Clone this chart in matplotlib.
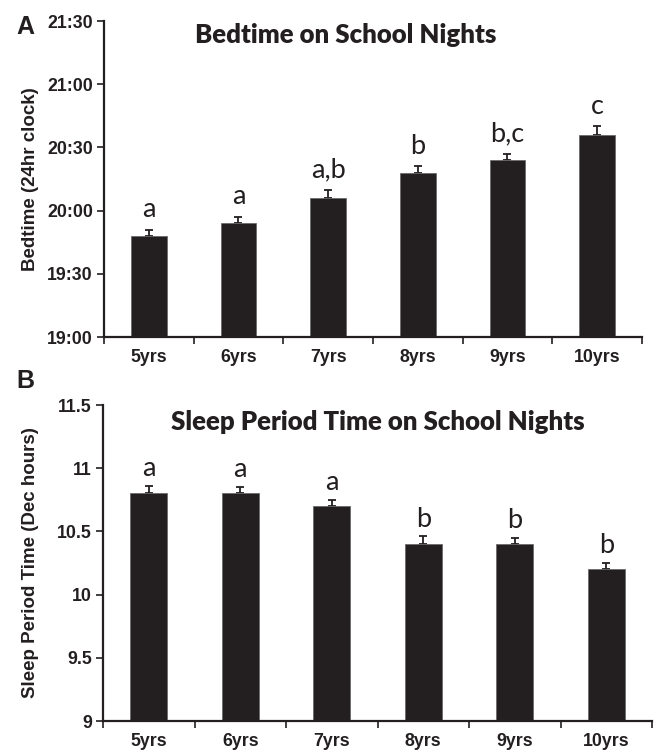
# Bedtime and Sleep Period Time on school nights, by age

# Importing the Libraries
import numpy as np
import matplotlib
matplotlib.use('Agg')
import matplotlib.pyplot as plt
from matplotlib.ticker import FixedLocator, FuncFormatter, FormatStrFormatter

# Data
ages = ['5yrs', '6yrs', '7yrs', '8yrs', '9yrs', '10yrs']

# panel A : bedtime (hh:mm) and SE in minutes
bedtime = ['19:48', '19:54', '20:06', '20:18', '20:24', '20:36']
bedtime_err = [3, 3, 4, 3, 3, 4]
bedtime_letters = ['a', 'a', 'a,b', 'b', 'b,c', 'c']
bedtime_ticks = ['19:00', '19:30', '20:00', '20:30', '21:00', '21:30']

# panel B : sleep period time (decimal hours) and SE
spt = [10.8, 10.8, 10.7, 10.4, 10.4, 10.2]
spt_err = [0.06, 0.05, 0.05, 0.06, 0.05, 0.05]
spt_letters = ['a', 'a', 'a', 'b', 'b', 'b']
spt_ticks = [9, 9.5, 10, 10.5, 11, 11.5]


def to_min(s):
    h, m = s.split(':')
    return int(h) * 60 + int(m)


bar_col = '#231f20'
tick_font = 'Liberation Sans'
cal_font = 'Lato'

fig = plt.figure(figsize=(6.56, 7.51), dpi=100)
W, H = 656.0, 751.0


def make_axes(left, right, top, bottom):
    return fig.add_axes([left / W, 1 - bottom / H, (right - left) / W, (bottom - top) / H])


def style_axes(ax):
    for s in ['top', 'right']:
        ax.spines[s].set_visible(False)
    for s in ['left', 'bottom']:
        ax.spines[s].set_linewidth(1.6)
        ax.spines[s].set_color('#231f20')
    x = np.arange(len(ages))
    ax.set_xlim(-0.5, len(ages) - 0.5)
    # ticks at the group boundaries, labels at the centres
    ax.xaxis.set_major_locator(FixedLocator(np.arange(len(ages) + 1) - 0.5))
    ax.xaxis.set_major_formatter(FuncFormatter(lambda v, p: ''))
    ax.xaxis.set_minor_locator(FixedLocator(x))
    ax.set_xticks(x, ages, minor=True)
    ax.tick_params(axis='x', which='major', direction='out', length=5, width=1.2, color='#231f20')
    ax.tick_params(axis='x', which='minor', length=0, pad=9)
    ax.tick_params(axis='y', direction='out', length=5, width=1.2, color='#231f20', pad=3)
    for lab in ax.get_xticklabels(minor=True) + ax.get_yticklabels():
        lab.set_fontfamily(tick_font)
        lab.set_fontweight('bold')
        lab.set_fontsize(12.8)
        lab.set_color('#231f20')


def draw_bars(ax, vals, errs, letters, pad):
    x = np.arange(len(vals))
    ax.bar(x, vals, width=0.4, color=bar_col, edgecolor='#6b6b6b', linewidth=0.6, zorder=2)
    ax.errorbar(x, vals, yerr=[np.zeros(len(errs)), errs], fmt='none',
                ecolor=bar_col, elinewidth=1.3, capsize=2.8, capthick=1.3, zorder=1)
    for xi, v, e, l in zip(x, vals, errs, letters):
        ax.annotate(l, (xi, v + e), xytext=(0, pad), textcoords='offset points',
                    ha='center', va='baseline', fontsize=19.5, fontfamily=cal_font,
                    color='#231f20')


# Panel A : Bedtime
axA = make_axes(104, 642, 21, 337)
bt = [to_min(s) for s in bedtime]
draw_bars(axA, bt, bedtime_err, bedtime_letters, 9)
axA.set_ylim(to_min(bedtime_ticks[0]), to_min(bedtime_ticks[-1]))
axA.set_yticks([to_min(s) for s in bedtime_ticks], bedtime_ticks)
style_axes(axA)
axA.set_ylabel('Bedtime (24hr clock)', fontfamily=tick_font, fontweight='bold',
               fontsize=13.5, color='#231f20', labelpad=6)
axA.text(0.45, 0.955, 'Bedtime on School Nights', transform=axA.transAxes,
         ha='center', va='center', fontsize=18.5, fontweight='heavy',
         fontfamily=cal_font, color='#231f20')
fig.text(16 / W, 1 - 27 / H, 'A', fontfamily=tick_font, fontweight='bold',
         fontsize=18, va='center', ha='left', color='#231f20')

# Panel B : Sleep Period Time
axB = make_axes(103, 652, 405, 721)
draw_bars(axB, spt, spt_err, spt_letters, 7)
axB.set_ylim(spt_ticks[0], spt_ticks[-1])
axB.set_yticks(spt_ticks)
axB.yaxis.set_major_formatter(FormatStrFormatter('%g'))
style_axes(axB)
axB.set_ylabel('Sleep Period Time (Dec hours)', fontfamily=tick_font, fontweight='bold',
               fontsize=13.5, color='#231f20', labelpad=13)
axB.text(0.50, 0.945, 'Sleep Period Time on School Nights', transform=axB.transAxes,
         ha='center', va='center', fontsize=18.5, fontweight='heavy',
         fontfamily=cal_font, color='#231f20')
fig.text(16 / W, 1 - 381 / H, 'B', fontfamily=tick_font, fontweight='bold',
         fontsize=18, va='center', ha='left', color='#231f20')

fig.savefig('out.png', dpi=100)
